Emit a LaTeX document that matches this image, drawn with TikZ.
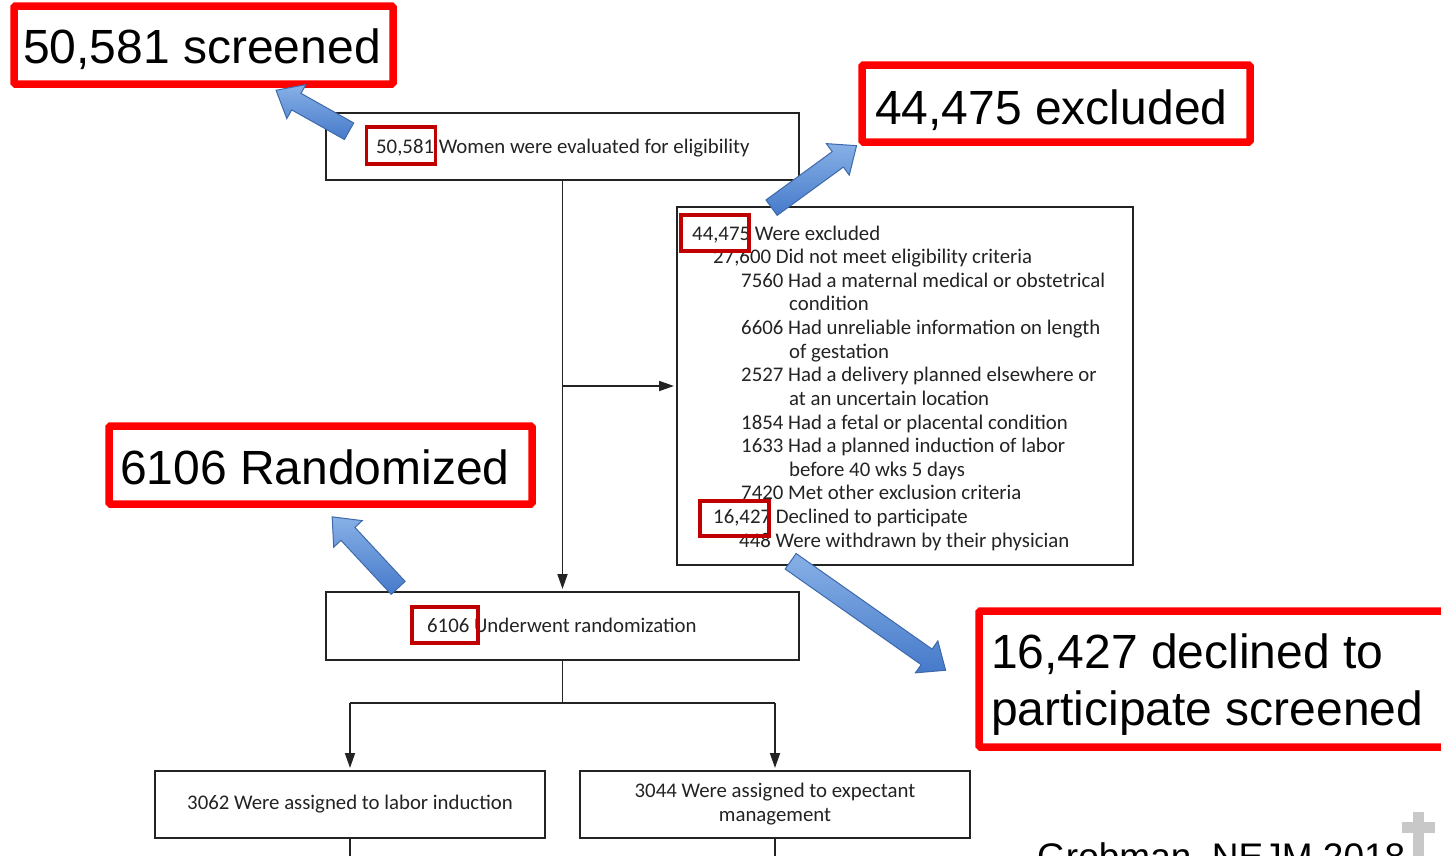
\documentclass[tikz,border=0pt]{standalone}
\usepackage{fontspec}
\setmainfont{Carlito}
\newfontfamily\calloutfont{Liberation Sans}
\usetikzlibrary{arrows.meta,shapes.arrows,calc,shadows}

\definecolor{tagred}{RGB}{192,0,0}
\definecolor{calloutred}{RGB}{255,0,0}
\definecolor{arrowtop}{RGB}{135,176,230}
\definecolor{arrowbottom}{RGB}{70,122,202}
\definecolor{arrowedge}{RGB}{62,105,170}
\definecolor{ink}{RGB}{35,35,35}
\definecolor{crossgray}{RGB}{200,200,200}

\begin{document}
\begin{tikzpicture}[x=1pt,y=-1pt,
  flowbox/.style={draw=ink, line width=2pt, fill=white, inner sep=0pt,
    font=\fontsize{20.8}{24}\selectfont, text=ink, align=center},
  flowtext/.style={font=\fontsize{20.8}{24}\selectfont, text=ink, inner sep=0pt, anchor=base west},
  link/.style={draw=ink, line width=1.8pt, -{Triangle[length=15pt,width=10pt]}, shorten >=2pt},
  plainline/.style={draw=ink, line width=1.8pt},
  tag/.style={draw=tagred, line width=3.5pt, inner sep=0pt},
  callout/.style={draw=calloutred, line width=7.5pt, fill=white, rounded corners=1.5pt, inner sep=0pt,
    drop shadow={shadow xshift=2pt, shadow yshift=-3pt, opacity=0.3, fill=black!70}},
  callouttext/.style={font=\calloutfont\fontsize{48}{57}\selectfont, inner sep=0pt, anchor=base west},
  bluearrow/.style={single arrow, draw=arrowedge, line width=1pt, top color=arrowtop, bottom color=arrowbottom,
    inner xsep=0pt, inner ysep=9pt, minimum width=1pt, single arrow head extend=10pt,
    single arrow tip angle=80},
]
\useasboundingbox (0,0) rectangle (1441,855);
\clip (0,0) rectangle (1441,855);

% flowchart boxes
\node[flowbox, minimum width=473pt, minimum height=67pt] (elig) at (562.5,146.5) {};
\node[flowtext] (eligtxt) at (376,153) {50,581 Women were evaluated for eligibility};
\node[flowbox, minimum width=456pt, minimum height=358pt] (excl) at (905,386) {};
\node[flowbox, minimum width=473pt, minimum height=68pt] (rand) at (562.5,626) {};
\node[flowtext] (randtxt) at (427,632) {6106 Underwent randomization};
\node[flowbox, minimum width=390pt, minimum height=67pt] (ind) at (350,804.5) {3062 Were assigned to labor induction};
\node[flowbox, minimum width=390pt, minimum height=67pt] (exp) at (775,804.5) {3044 Were assigned to expectant\\management};

% exclusion list
\node[flowtext] (e1)  at (692,240.0) {44,475 Were excluded};
\node[flowtext] (e2)  at (713,263.6) {27,600 Did not meet eligibility criteria};
\node[flowtext] (e3)  at (741,287.2) {7560 Had a maternal medical or obstetrical};
\node[flowtext] (e4)  at (789,310.9) {condition};
\node[flowtext] (e5)  at (741,334.5) {6606 Had unreliable information on length};
\node[flowtext] (e6)  at (789,358.1) {of gestation};
\node[flowtext] (e7)  at (741,381.7) {2527 Had a delivery planned elsewhere or};
\node[flowtext] (e8)  at (789,405.3) {at an uncertain location};
\node[flowtext] (e9)  at (741,429.0) {1854 Had a fetal or placental condition};
\node[flowtext] (e10) at (741,452.6) {1633 Had a planned induction of labor};
\node[flowtext] (e11) at (789,476.2) {before 40 wks 5 days};
\node[flowtext] (e12) at (741,499.8) {7420 Met other exclusion criteria};
\node[flowtext] (e13) at (713,523.4) {16,427 Declined to participate};
\node[flowtext] (e14) at (739,547.0) {448 Were withdrawn by their physician};

% connectors
\coordinate (branch) at (562.5,386);
\coordinate (split) at (562.5,703);
\coordinate (indout) at (350,860);
\coordinate (expout) at (775,860);
\draw[link] (elig.south) -- (rand.north);
\draw[link] (branch) -- (excl.west |- branch);
\draw[plainline] (rand.south) -- (split);
\draw[plainline] (ind.north |- split) -- (exp.north |- split);
\draw[link] (ind.north |- split) -- (ind.north);
\draw[link] (exp.north |- split) -- (exp.north);
\draw[plainline] (ind.south) -- (indout);
\draw[plainline] (exp.south) -- (expout);

% highlighted counts
\node[tag, minimum width=69pt, minimum height=37pt] (tagA) at (401,145.5) {};
\node[tag, minimum width=68pt, minimum height=36pt] (tagB) at (715,233) {};
\node[tag, minimum width=69pt, minimum height=35pt] (tagC) at (734.5,518.5) {};
\node[tag, minimum width=66pt, minimum height=36pt] (tagD) at (445,625) {};

% callouts
\node[callout, minimum width=379pt, minimum height=78pt] (cA) at (203.5,45) {};
\node[callouttext] (cAtxt) at (23,63) {50,581 screened};
\node[callout, minimum width=388pt, minimum height=77pt] (cB) at (1056,103.5) {};
\node[callouttext] (cBtxt) at (875,124) {44,475 excluded};
\node[callout, minimum width=423pt, minimum height=78pt] (cC) at (320.5,465) {};
\node[callouttext] (cCtxt) at (120,484) {6106 Randomized};
\node[callout, minimum width=471pt, minimum height=136pt] (cD) at (1214.5,679) {};
\node[callouttext] (cDtxt1) at (991,668) {16,427 declined to};
\node[callouttext] (cDtxt2) at (991,725) {participate screened};

% block arrows from the counts to the callouts
\coordinate (a1s) at (354,134);  \coordinate (a1e) at (281,93);
\coordinate (a2s) at (767,211);  \coordinate (a2e) at (852,149);
\coordinate (a3s) at (402,592);  \coordinate (a3e) at (336,521);
\coordinate (a4s) at (786,558);  \coordinate (a4e) at (941,667);
\path let \p1=($(a1e)-(a1s)$) in node[bluearrow, minimum height={veclen(\x1,\y1)}, rotate={atan2(\y1,\x1)}] (ba1) at ($(a1s)!0.5!(a1e)$) {};
\path let \p1=($(a2e)-(a2s)$) in node[bluearrow, minimum height={veclen(\x1,\y1)}, rotate={atan2(\y1,\x1)}] (ba2) at ($(a2s)!0.5!(a2e)$) {};
\path let \p1=($(a3e)-(a3s)$) in node[bluearrow, minimum height={veclen(\x1,\y1)}, rotate={atan2(\y1,\x1)}] (ba3) at ($(a3s)!0.5!(a3e)$) {};
\path let \p1=($(a4e)-(a4s)$) in node[bluearrow, minimum height={veclen(\x1,\y1)}, rotate={atan2(\y1,\x1)}] (ba4) at ($(a4s)!0.5!(a4e)$) {};

% citation and corner mark
\node[font=\calloutfont\fontsize{37}{44}\selectfont, inner sep=0pt, anchor=base west] (cite) at (1037,869) {Grobman, NEJM 2018};
\fill[crossgray] (1413,812) rectangle (1424,860);
\fill[crossgray] (1402,822) rectangle (1435,833);
\end{tikzpicture}
\end{document}
